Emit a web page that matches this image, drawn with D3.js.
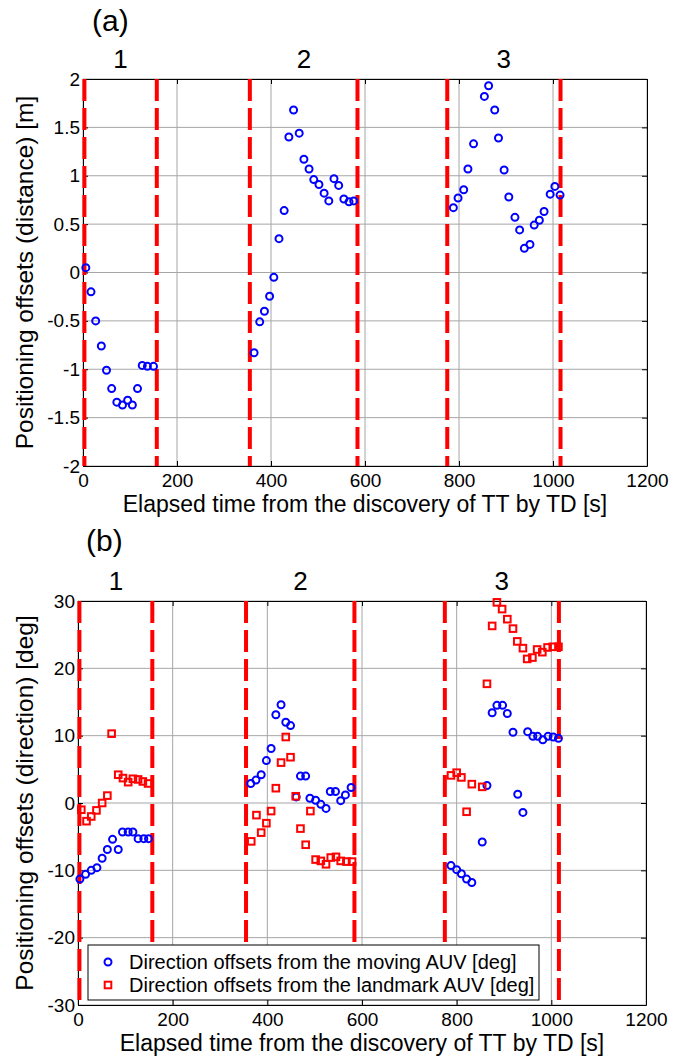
<!DOCTYPE html>
<html>
<head>
<meta charset="utf-8">
<script src="https://cdn.jsdelivr.net/npm/d3@7"></script>
<style>
body { margin: 0; background: #fff; }
text { font-family: "Liberation Sans", Arial, sans-serif; fill: #000; }
</style>
</head>
<body>
<div id="chart"></div>
<script>
// panel (a): distance offsets [m]
var distTime = [6, 17, 27, 39, 50, 61, 72, 84, 95, 105, 116, 126, 137, 150,
    364, 376, 386, 397, 406, 417, 428, 438, 448, 460, 470, 481, 491, 502, 513, 523, 534, 544, 555, 566, 576,
    788, 798, 810, 819, 831, 854, 863, 876, 884, 896, 906, 919, 929, 939, 951, 960, 971, 981, 994, 1004, 1015];
var distOffset = [0.05, -0.2, -0.5, -0.76, -1.01, -1.2, -1.34, -1.37, -1.32, -1.37, -1.2, -0.96, -0.97, -0.97,
    -0.83, -0.51, -0.4, -0.245, -0.05, 0.35, 0.64, 1.4, 1.68, 1.44, 1.17, 1.07, 0.96, 0.91, 0.82, 0.74, 0.97, 0.9, 0.76, 0.73, 0.74,
    0.67, 0.77, 0.855, 1.07, 1.33, 1.82, 1.93, 1.68, 1.39, 1.06, 0.78, 0.57, 0.44, 0.25, 0.29, 0.49, 0.54, 0.63, 0.81, 0.89, 0.8];

// panel (b): direction offsets [deg]
var moveTime = [4, 16, 28, 40, 51, 62, 73, 85, 94, 106, 116, 127, 139, 149,
    365, 376, 387, 398, 408, 418, 429, 439, 449, 461, 470, 481, 490, 502, 513, 524, 533, 544, 555, 565, 577,
    788, 800, 810, 821, 832, 854, 864, 875, 885, 897, 907, 919, 929, 940, 950, 961, 971, 982, 993, 1004, 1015];
var moveOffset = [-11.3, -10.6, -10.0, -9.6, -8.2, -6.9, -5.4, -6.9, -4.3, -4.3, -4.3, -5.3, -5.3, -5.3,
    2.9, 3.4, 4.2, 6.3, 8.1, 13.1, 14.6, 12.0, 11.5, 0.9, 4.0, 4.0, 0.7, 0.4, -0.2, -0.8, 1.7, 1.7, 0.35, 1.2, 2.3,
    -9.3, -9.9, -10.5, -11.3, -11.8, -5.8, 2.6, 13.4, 14.5, 14.5, 13.3, 10.5, 1.3, -1.4, 10.6, 9.9, 9.9, 9.4, 9.9, 9.8, 9.6];

var markTime = [7, 18, 28, 39, 51, 62, 71, 85, 95, 106, 116, 127, 137, 148,
    366, 377, 387, 398, 408, 418, 429, 439, 449, 460, 470, 481, 491, 502, 513, 524, 534, 545, 555, 567, 579,
    788, 800, 810, 821, 832, 854, 864, 875, 885, 896, 907, 919, 928, 940, 949, 960, 970, 981, 992, 1003, 1015];
var markOffset = [-1.0, -2.7, -2.0, -1.1, 0, 1.1, 10.3, 4.2, 3.7, 3.1, 3.6, 3.5, 3.2, 2.9,
    -5.7, -1.8, -4.4, -3.0, -1.2, 2.2, 6.0, 9.8, 6.8, 1.0, -3.8, -6.2, -1.2, -8.4, -8.6, -9.1, -8.1, -8.0, -8.6, -8.7, -8.7,
    4.1, 4.5, 3.8, -1.3, 2.8, 2.4, 17.7, 26.3, 29.8, 28.8, 27.3, 25.9, 24.0, 23.0, 21.4, 21.6, 22.8, 22.4, 23.1, 23.2, 23.2];

// trial boundaries and labels
var boundaryTime = [3, 157, 355, 584, 775, 1016];
var segmentName = ["1", "2", "3"];
var segmentTime = [80, 470, 895];

var xTicks = [0, 200, 400, 600, 800, 1000, 1200];
var distTicks = [-2, -1.5, -1, -0.5, 0, 0.5, 1, 1.5, 2];
var dirTicks = [-30, -20, -10, 0, 10, 20, 30];

var legendNames = ["Direction offsets from the moving AUV [deg]", "Direction offsets from the landmark AUV [deg]"];

var W = 690, H = 1059;
var svg = d3.select("#chart").append("svg").attr("width", W).attr("height", H);

function panel(p) {
    var x = d3.scaleLinear().domain([0, 1200]).range([p.left, p.right]);
    var y = d3.scaleLinear().domain(p.ydom).range([p.bottom, p.top]);
    var g = svg.append("g");

    // grid
    g.append("g").selectAll("line").data(xTicks).enter().append("line")
        .attr("x1", function(d){ return x(d); }).attr("x2", function(d){ return x(d); })
        .attr("y1", p.top).attr("y2", p.bottom)
        .attr("stroke", "#a6a6a6").attr("stroke-width", 1);
    g.append("g").selectAll("line").data(p.yticks).enter().append("line")
        .attr("y1", function(d){ return y(d); }).attr("y2", function(d){ return y(d); })
        .attr("x1", p.left).attr("x2", p.right)
        .attr("stroke", "#a6a6a6").attr("stroke-width", 1);

    // axes with inward ticks
    var fmt = function(d){ return String(d); };
    g.append("g").attr("transform", "translate(0," + p.bottom + ")")
        .call(d3.axisBottom(x).tickValues(xTicks).tickFormat(fmt).tickSizeInner(-5).tickSizeOuter(0).tickPadding(8));
    g.append("g").attr("transform", "translate(0," + p.top + ")")
        .call(d3.axisTop(x).tickValues(xTicks).tickFormat("").tickSizeInner(-5).tickSizeOuter(0));
    g.append("g").attr("transform", "translate(" + p.left + ",0)")
        .call(d3.axisLeft(y).tickValues(p.yticks).tickFormat(fmt).tickSizeInner(-5).tickSizeOuter(0).tickPadding(3));
    g.append("g").attr("transform", "translate(" + p.right + ",0)")
        .call(d3.axisRight(y).tickValues(p.yticks).tickFormat("").tickSizeInner(-5).tickSizeOuter(0));
    g.selectAll(".domain").attr("stroke", "#000");
    g.selectAll(".tick line").attr("stroke", "#000");
    g.selectAll(".tick text").style("font-size", "19px").attr("fill", "#000");

    // red dashed boundaries
    g.append("g").selectAll("line").data(boundaryTime).enter().append("line")
        .attr("x1", function(d){ return x(d); }).attr("x2", function(d){ return x(d); })
        .attr("y1", p.top).attr("y2", p.bottom)
        .attr("stroke", "#ff0000").attr("stroke-width", 4)
        .attr("stroke-dasharray", "22,7");

    // segment numbers
    g.append("g").selectAll("text").data(segmentName).enter().append("text")
        .attr("x", function(d, i){ return x(segmentTime[i]); })
        .attr("y", p.top - 11)
        .attr("text-anchor", "middle")
        .style("font-size", "26px")
        .text(function(d){ return d; });

    // labels
    g.append("text").attr("x", p.tagX).attr("y", p.tagY).style("font-size", "30px").text(p.tag);
    g.append("text").attr("x", (p.left + p.right) / 2).attr("y", p.bottom + 46)
        .attr("text-anchor", "middle").style("font-size", "23px")
        .text("Elapsed time from the discovery of TT by TD [s]");
    g.append("text")
        .attr("transform", "translate(33," + (p.top + p.bottom) / 2 + ") rotate(-90)")
        .attr("text-anchor", "middle").style("font-size", "24.5px")
        .text(p.ylabel);

    return {g: g, x: x, y: y};
}

function circles(pl, t, v) {
    pl.g.append("g").selectAll("circle").data(t).enter().append("circle")
        .attr("cx", function(d){ return pl.x(d); })
        .attr("cy", function(d, i){ return pl.y(v[i]); })
        .attr("r", 3.5)
        .attr("fill", "none").attr("stroke", "#0000ff").attr("stroke-width", 2);
}

function squares(pl, t, v) {
    pl.g.append("g").selectAll("rect").data(t).enter().append("rect")
        .attr("x", function(d){ return pl.x(d) - 3.3; })
        .attr("y", function(d, i){ return pl.y(v[i]) - 3.3; })
        .attr("width", 6.6).attr("height", 6.6)
        .attr("fill", "none").attr("stroke", "#ff0000").attr("stroke-width", 2);
}

var pa = panel({left: 83, right: 647, top: 79, bottom: 466, ydom: [-2, 2], yticks: distTicks,
    tag: "(a)", tagX: 92, tagY: 31, ylabel: "Positioning offsets (distance) [m]"});
circles(pa, distTime, distOffset);

var pb = panel({left: 78, right: 646, top: 601, bottom: 1005, ydom: [-30, 30], yticks: dirTicks,
    tag: "(b)", tagX: 86, tagY: 551, ylabel: "Positioning offsets (direction) [deg]"});
circles(pb, moveTime, moveOffset);
squares(pb, markTime, markOffset);

// legend
var lg = svg.append("g").attr("transform", "translate(88,945)");
lg.append("rect").attr("width", 451).attr("height", 55)
    .attr("fill", "#fff").attr("stroke", "#000").attr("stroke-width", 1);
lg.append("circle").attr("cx", 20).attr("cy", 17).attr("r", 3.5)
    .attr("fill", "none").attr("stroke", "#0000ff").attr("stroke-width", 2);
lg.append("rect").attr("x", 16.7).attr("y", 36.7).attr("width", 6.6).attr("height", 6.6)
    .attr("fill", "none").attr("stroke", "#ff0000").attr("stroke-width", 2);
lg.selectAll("text.lab").data(legendNames).enter().append("text")
    .attr("class", "lab")
    .attr("x", 41).attr("y", function(d, i){ return 24 + i * 23; })
    .style("font-size", "20px")
    .text(function(d){ return d; });
</script>
</body>
</html>
